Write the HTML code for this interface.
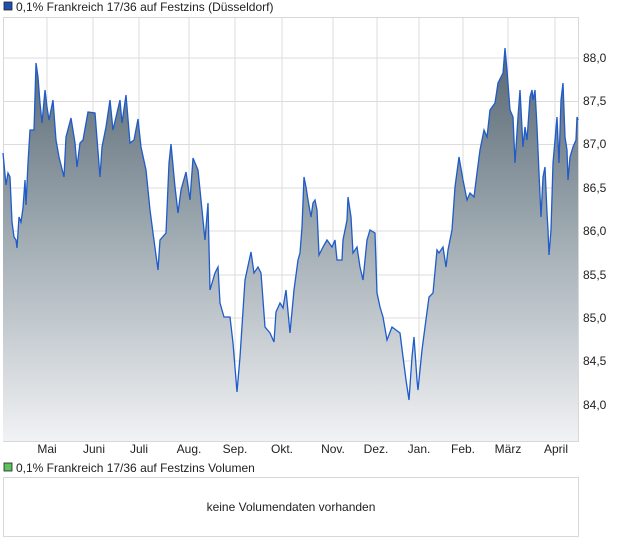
<!DOCTYPE html>
<html><head><meta charset="utf-8"><style>
body{margin:0;background:#fff;font-family:"Liberation Sans",sans-serif;}
svg{display:block}
text{font-family:"Liberation Sans",sans-serif;font-size:12px;fill:#222}
</style></head><body>
<svg width="620" height="546" viewBox="0 0 620 546">
<defs><linearGradient id="g" x1="0" y1="48" x2="0" y2="441" gradientUnits="userSpaceOnUse">
<stop offset="0" stop-color="#566672"/><stop offset="0.5" stop-color="#a3aeb5"/><stop offset="1" stop-color="#f1f2f4"/></linearGradient></defs>
<rect x="4" y="2" width="8" height="8" fill="#1f4fb0" stroke="#222" stroke-width="0.8"/>
<text x="16" y="11">0,1% Frankreich 17/36 auf Festzins (Düsseldorf)</text>
<g stroke="#dcdcdc" stroke-width="1">
<line x1="3" y1="58" x2="579" y2="58"/><line x1="3" y1="101.5" x2="579" y2="101.5"/><line x1="3" y1="144.5" x2="579" y2="144.5"/><line x1="3" y1="188" x2="579" y2="188"/><line x1="3" y1="231" x2="579" y2="231"/><line x1="3" y1="275" x2="579" y2="275"/><line x1="3" y1="318" x2="579" y2="318"/><line x1="3" y1="361" x2="579" y2="361"/><line x1="3" y1="405" x2="579" y2="405"/>
<line x1="47" y1="17" x2="47" y2="441"/><line x1="93" y1="17" x2="93" y2="441"/><line x1="139" y1="17" x2="139" y2="441"/><line x1="189" y1="17" x2="189" y2="441"/><line x1="235" y1="17" x2="235" y2="441"/><line x1="282" y1="17" x2="282" y2="441"/><line x1="333" y1="17" x2="333" y2="441"/><line x1="377" y1="17" x2="377" y2="441"/><line x1="419" y1="17" x2="419" y2="441"/><line x1="463" y1="17" x2="463" y2="441"/><line x1="508" y1="17" x2="508" y2="441"/><line x1="555" y1="17" x2="555" y2="441"/>
</g>
<rect x="3.5" y="17.5" width="575" height="424" fill="none" stroke="#d8d8d8"/>
<polygon fill="url(#g)" points="3,441 3,153 6,185 8,173 10,177 12,222 14,237 16,240 17,248 19,217 21,222 23,208 25,180 26,205 28,163 30,130 34,130 36,63 38,77 40,103 42,123 45,90 47,107 49,120 53,100 56,140 59,157 64,177 66,137 71,118 75,143 77,167 80,143 83,140 88,112 95,113 100,177 102,147 106,127 110,100 113,130 120,100 122,123 126,95 130,143 134,140 138,119 141,147 146,170 150,210 153,233 158,270 160,240 166,233 169,163 171,144 175,187 178,213 181,190 186,172 190,200 193,158 198,170 205,240 208,203 210,290 215,273 218,267 220,303 224,317 230,317 233,343 237,392 240,357 245,280 251,252 254,273 258,267 261,273 265,327 270,333 274,342 276,312 280,303 283,308 286,290 290,333 294,290 298,260 300,253 302,227 304,177 306,187 308,200 311,217 313,203 315,200 317,210 319,255 323,247 327,240 332,247 335,240 337,260 342,260 343,240 347,220 348,197 351,217 353,253 357,247 360,267 363,280 367,240 370,230 375,233 377,293 380,307 383,317 387,340 392,327 396,330 400,333 403,357 406,380 409,400 412,357 414,337 417,380 418,390 422,350 425,327 429,297 433,293 437,250 439,253 443,247 446,267 448,250 452,230 455,187 459,157 463,180 467,200 470,193 474,197 477,173 480,150 484,130 487,137 490,110 495,103 498,83 503,73 505,48 507,70 510,110 513,117 515,163 518,117 520,90 523,147 525,127 527,140 530,97 532,90 533,100 535,90 537,127 539,173 541,217 543,177 545,167 547,213 548,230 549,255 551,230 553,163 555,140 557,117 559,163 561,100 563,83 565,137 567,150 568,180 570,157 573,147 576,140 577,117 578,120 578,441"/>
<polyline fill="none" stroke="#1f5bc9" stroke-width="1.3" points="3,153 6,185 8,173 10,177 12,222 14,237 16,240 17,248 19,217 21,222 23,208 25,180 26,205 28,163 30,130 34,130 36,63 38,77 40,103 42,123 45,90 47,107 49,120 53,100 56,140 59,157 64,177 66,137 71,118 75,143 77,167 80,143 83,140 88,112 95,113 100,177 102,147 106,127 110,100 113,130 120,100 122,123 126,95 130,143 134,140 138,119 141,147 146,170 150,210 153,233 158,270 160,240 166,233 169,163 171,144 175,187 178,213 181,190 186,172 190,200 193,158 198,170 205,240 208,203 210,290 215,273 218,267 220,303 224,317 230,317 233,343 237,392 240,357 245,280 251,252 254,273 258,267 261,273 265,327 270,333 274,342 276,312 280,303 283,308 286,290 290,333 294,290 298,260 300,253 302,227 304,177 306,187 308,200 311,217 313,203 315,200 317,210 319,255 323,247 327,240 332,247 335,240 337,260 342,260 343,240 347,220 348,197 351,217 353,253 357,247 360,267 363,280 367,240 370,230 375,233 377,293 380,307 383,317 387,340 392,327 396,330 400,333 403,357 406,380 409,400 412,357 414,337 417,380 418,390 422,350 425,327 429,297 433,293 437,250 439,253 443,247 446,267 448,250 452,230 455,187 459,157 463,180 467,200 470,193 474,197 477,173 480,150 484,130 487,137 490,110 495,103 498,83 503,73 505,48 507,70 510,110 513,117 515,163 518,117 520,90 523,147 525,127 527,140 530,97 532,90 533,100 535,90 537,127 539,173 541,217 543,177 545,167 547,213 548,230 549,255 551,230 553,163 555,140 557,117 559,163 561,100 563,83 565,137 567,150 568,180 570,157 573,147 576,140 577,117 578,120"/>
<g>
<text x="583" y="62">88,0</text><text x="583" y="105">87,5</text><text x="583" y="148">87,0</text><text x="583" y="192">86,5</text><text x="583" y="235">86,0</text><text x="583" y="279">85,5</text><text x="583" y="322">85,0</text><text x="583" y="365">84,5</text><text x="583" y="409">84,0</text>
</g>
<g text-anchor="middle">
<text x="47" y="453">Mai</text><text x="94" y="453">Juni</text><text x="139" y="453">Juli</text><text x="189" y="453">Aug.</text><text x="235" y="453">Sep.</text><text x="282" y="453">Okt.</text><text x="333" y="453">Nov.</text><text x="376" y="453">Dez.</text><text x="419" y="453">Jan.</text><text x="463" y="453">Feb.</text><text x="508" y="453">März</text><text x="556" y="453">April</text>
</g>
<rect x="4" y="463" width="8" height="8" fill="#5cc35c" stroke="#222" stroke-width="0.8"/>
<text x="16" y="472">0,1% Frankreich 17/36 auf Festzins Volumen</text>
<rect x="3.5" y="477.5" width="575" height="59" fill="none" stroke="#d8d8d8"/>
<text x="291" y="511" text-anchor="middle">keine Volumendaten vorhanden</text>
</svg>
</body></html>
